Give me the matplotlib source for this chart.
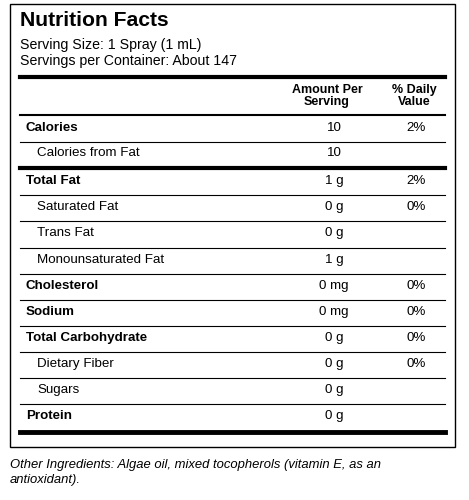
import matplotlib.pyplot as plt
from matplotlib.patches import Rectangle

plt.rcParams['font.family'] = ['Liberation Sans', 'DejaVu Sans']

nutrients = ["Calories", "Calories from Fat", "Total Fat", "Saturated Fat", "Trans Fat",
             "Monounsaturated Fat", "Cholesterol", "Sodium", "Total Carbohydrate",
             "Dietary Fiber", "Sugars", "Protein"]
amounts = ["10", "10", "1 g", "0 g", "0 g", "1 g", "0 mg", "0 mg", "0 g", "0 g", "0 g", "0 g"]
daily = ["2%", "", "2%", "0%", "", "", "0%", "0%", "0%", "0%", "", ""]
is_sub = [False, True, False, True, True, True, False, False, False, True, True, False]
row_y = [128, 153, 181, 207, 233, 260, 286, 312, 338, 364, 390, 416]

fig = plt.figure(figsize=(4.69, 5), dpi=100)
ax = fig.add_axes([0, 0, 1, 1])
ax.set_xlim(0, 469)
ax.set_ylim(500, 0)
ax.axis('off')

ax.add_patch(Rectangle((10, 4), 445, 443, fill=False, lw=1, ec='black'))
ax.text(20, 20, "Nutrition Facts", fontsize=15.2, fontweight='bold', va='center')
ax.text(20, 45, "Serving Size: 1 Spray (1 mL)", fontsize=10.2, va='center')
ax.text(20, 61, "Servings per Container: About 147", fontsize=10.2, va='center')

ax.plot([20, 445], [77, 77], color='black', lw=3)
ax.text(327, 96, "Amount Per\nServing", fontsize=9, fontweight='bold', ha='center', va='center', linespacing=1.0)
ax.text(414, 96, "% Daily\nValue", fontsize=9, fontweight='bold', ha='center', va='center', linespacing=1.0)
ax.plot([20, 445], [115, 115], color='black', lw=1.5)

for i, name in enumerate(nutrients):
    y = row_y[i]
    if is_sub[i]:
        ax.text(37, y, name, fontsize=9.6, va='center')
    else:
        ax.text(26, y, name, fontsize=9.6, fontweight='bold', va='center')
    ax.text(334, y, amounts[i], fontsize=9.6, ha='center', va='center')
    ax.text(416, y, daily[i], fontsize=9.6, ha='center', va='center')
    if i < len(nutrients) - 1:
        ly = (row_y[i] + row_y[i + 1]) / 2 + 1
        if name == "Calories from Fat":
            ax.plot([20, 445], [168, 168], color='black', lw=3)
        else:
            ax.plot([20, 445], [ly, ly], color='black', lw=0.8)

ax.plot([20, 445], [432, 432], color='black', lw=3.5)

ax.text(10, 465, "Other Ingredients: Algae oil, mixed tocopherols (vitamin E, as an", fontsize=9.4, style='italic', va='center')
ax.text(10, 480, "antioxidant).", fontsize=9.4, style='italic', va='center')

fig.savefig("out.png", dpi=100)
